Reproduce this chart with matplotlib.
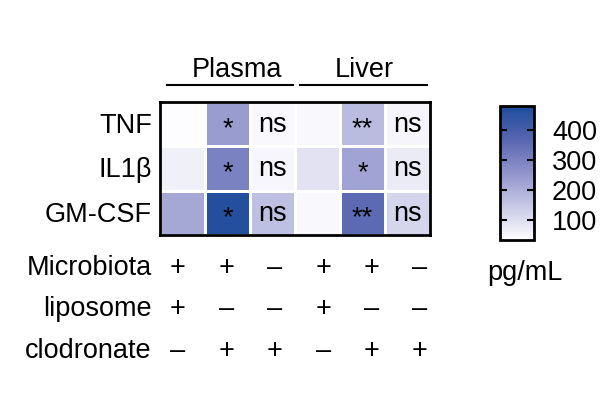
import matplotlib
matplotlib.use('Agg')
import matplotlib.pyplot as plt
import numpy as np
from matplotlib.colors import LinearSegmentedColormap, Normalize
from matplotlib.lines import Line2D
import matplotlib.cm as cm

plt.rcParams['font.family'] = ['Liberation Sans', 'DejaVu Sans']

# cytokine levels (pg/mL), columns: plasma x3, liver x3
cytokines = ['TNF', 'IL1\u03b2', 'GM-CSF']
tnf = [33, 240, 45, 45, 175, 52]
il1b = [62, 300, 48, 92, 225, 72]
gmcsf = [215, 465, 165, 45, 360, 118]
signif = [['', '*', 'ns', '', '**', 'ns'],
          ['', '*', 'ns', '', '*', 'ns'],
          ['', '*', 'ns', '', '**', 'ns']]

groups = ['Plasma', 'Liver']
conditions = ['Microbiota', 'liposome', 'clodronate']
microbiota = ['+', '+', '\u2013', '+', '+', '\u2013']
liposome = ['+', '\u2013', '\u2013', '+', '\u2013', '\u2013']
clodronate = ['\u2013', '+', '+', '\u2013', '+', '+']

cbar_ticks = [100, 200, 300, 400]
vmin, vmax = 33, 480

W, H = 616, 398
FS = 19.5

def fx(x):
    return x / W

def fy(y):
    return 1 - y / H

cmap = LinearSegmentedColormap.from_list(
    'wb', ['#fdfdff', '#c8c9e6', '#9094cb', '#5866b1', '#1c4c9c'])
norm = Normalize(vmin=vmin, vmax=vmax)

fig = plt.figure(figsize=(W / 100, H / 100), dpi=100)

# heatmap
ax = fig.add_axes([fx(160), fy(235), fx(270), 133 / H])
data = np.array([tnf, il1b, gmcsf])
ax.pcolormesh(data, cmap=cmap, norm=norm, edgecolors='white', linewidth=1)
ax.set_xlim(0, 6)
ax.set_ylim(3, 0)
ax.set_xticks([])
ax.set_yticks([])
for s in ax.spines.values():
    s.set_linewidth(2)

for i, row in enumerate(signif):
    for j, lab in enumerate(row):
        if lab == 'ns':
            ax.text(j + 0.5, i + 0.68, lab, ha='center', va='baseline', fontsize=FS)
        elif lab:
            ax.text(j + 0.5, i + 0.77, lab, ha='center', va='baseline', fontsize=FS)

for i, name in enumerate(cytokines):
    ax.text(-0.18, i + 0.7, name, ha='right', va='baseline', fontsize=FS)

# group headers
for k, g in enumerate(groups):
    x0 = [167, 300][k]
    x1 = [293, 427][k]
    xc = [237, 364][k]
    fig.text(fx(xc), fy(77), g, ha='center', va='baseline', fontsize=FS)
    fig.add_artist(Line2D([fx(x0), fx(x1)], [fy(85), fy(85)],
                          transform=fig.transFigure, color='black', lw=1.5))

# treatment table
rows = [microbiota, liposome, clodronate]
for r, (name, signs) in enumerate(zip(conditions, rows)):
    yb = [275, 316, 358][r]
    fig.text(fx(152), fy(yb), name, ha='right', va='baseline', fontsize=FS)
    for j, s in enumerate(signs):
        fig.text(fx(178 + 48.4 * j), fy(yb), s, ha='center', va='baseline', fontsize=FS)

# colorbar
cax = fig.add_axes([fx(500), fy(240), fx(34), 134 / H])
cb = fig.colorbar(cm.ScalarMappable(norm=norm, cmap=cmap), cax=cax, ticks=cbar_ticks)
cb.outline.set_linewidth(2)
cax.tick_params(direction='in', left=True, right=True, length=5, width=1.5,
                labelsize=FS, pad=13)
fig.text(fx(525), fy(273), 'pg/mL', ha='center', va='center', fontsize=FS)

fig.savefig('out.png', dpi=100)
